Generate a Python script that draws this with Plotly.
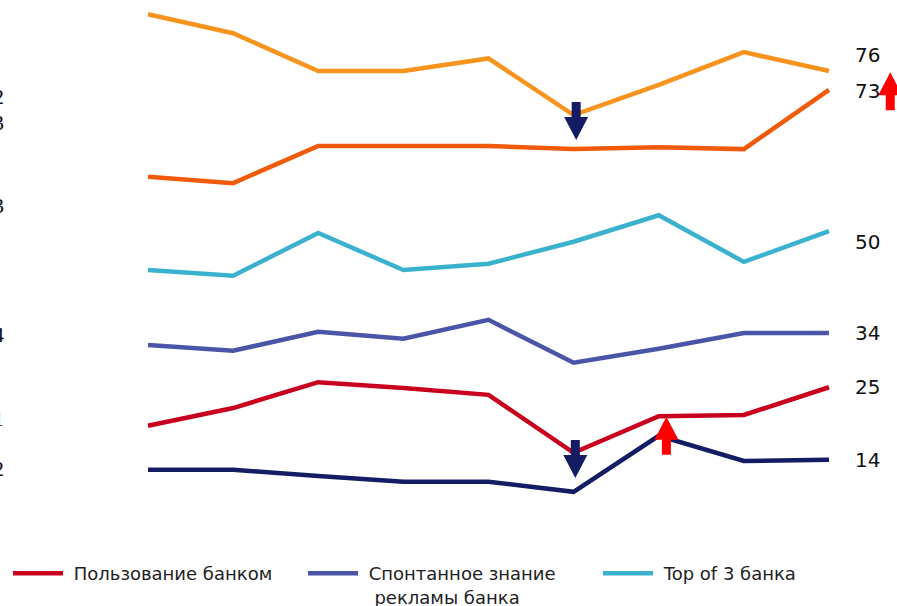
import plotly.graph_objects as go

# ---------------- data ----------------
periods = list(range(9))

top3_share_light = [85, 82, 76, 76, 78, 69, 73.8, 79, 76]      # light orange (not in legend)
top3_share_dark = [59.2, 58.2, 64.1, 64.1, 64.1, 63.6, 63.9, 63.6, 73]  # dark orange
top3_bank = [44.4, 43.5, 50.3, 44.4, 45.4, 48.9, 53.1, 45.7, 50.6]       # cyan
spont_adv = [32.5, 31.6, 34.6, 33.5, 36.5, 29.7, 31.9, 34.4, 34.4]       # blue
bank_usage = [19.7, 22.5, 26.6, 25.7, 24.6, 15.4, 21.2, 21.4, 25.8]      # red
navy_series = [12.7, 12.7, 11.7, 10.8, 10.8, 9.2, 18.1, 14.1, 14.3]      # navy

NB = "\u00a0"
series_names = [NB + "Пользование банком",
                NB + "Спонтанное знание<br>" + NB * 2 + "рекламы банка",
                NB + "Top of 3 банка"]
end_labels = ["76", "73", "50", "34", "25", "14"]
end_label_values = [78.5, 72.8, 48.8, 34.4, 25.8, 14.2]
left_labels = ["72", "63", "43", "34", "21", "12"]
left_label_values = [71.9, 67.9, 54.6, 34.1, 20.9, 12.9]

# arrows: (x period, tip value, direction, colour)
arrows = [
    (5.03, 65.05, "down", "#141C64"),
    (5.02, 11.4, "down", "#141C64"),
    (6.09, 21.1, "up", "#FF0000"),
    (8.72, 75.8, "up", "#FF0000"),
]

# ---------------- figure ----------------
W, H = 897, 606
Y0, Y1 = 4.73, 87.27
X0, X1 = -1.7386, 8.799
px_x = (X1 - X0) / W
px_y = (Y1 - Y0) / 520

fig = go.Figure()

def add_line(vals, color, name=None, show=False):
    fig.add_trace(go.Scatter(
        x=periods, y=vals, mode="lines", name=name if name else "",
        line=dict(color=color, width=4.5), showlegend=show, hoverinfo="skip"))

add_line(bank_usage, "#C8001E", series_names[0], True)
add_line(spont_adv, "#4A55A8", series_names[1], True)
add_line(top3_bank, "#3BB2CD", series_names[2], True)
add_line(top3_share_light, "#F7941E")
add_line(top3_share_dark, "#F05A0A")
add_line(navy_series, "#141C64")

for x, tip, d, col in arrows:
    s = 1 if d == "down" else -1
    L, HL, SW, HW = 38, 23, 4.5, 12
    yt = tip
    yh = tip + s * HL * px_y
    ys = tip + s * L * px_y
    path = (f"M{x:.4f},{yt:.4f} L{x - HW*px_x:.4f},{yh:.4f} L{x - SW*px_x:.4f},{yh:.4f} "
            f"L{x - SW*px_x:.4f},{ys:.4f} L{x + SW*px_x:.4f},{ys:.4f} L{x + SW*px_x:.4f},{yh:.4f} "
            f"L{x + HW*px_x:.4f},{yh:.4f} Z")
    fig.add_shape(type="path", path=path, xref="x", yref="y",
                  fillcolor=col, line=dict(width=0), layer="above")

for t, v in zip(end_labels, end_label_values):
    fig.add_annotation(x=853 / W, xref="paper", y=v, yref="y", text=t, showarrow=False,
                       xanchor="left", yanchor="middle",
                       font=dict(family="DejaVu Sans", size=20, color="#111111"))

for t, v in zip(left_labels, left_label_values):
    fig.add_annotation(x=6 / W, xref="paper", y=v, yref="y", text=t, showarrow=False,
                       xanchor="right", yanchor="middle",
                       font=dict(family="Liberation Serif", size=22, color="#111111"))

fig.update_layout(
    width=W, height=H,
    margin=dict(l=0, r=0, t=0, b=86),
    paper_bgcolor="white", plot_bgcolor="white",
    xaxis=dict(range=[X0, X1], visible=False),
    yaxis=dict(range=[Y0, Y1], visible=False),
    legend=dict(orientation="h", x=8 / W, xanchor="left", y=1 - 555 / H, yref="container",
                yanchor="top", entrywidth=230, entrywidthmode="pixels", itemwidth=50,
                font=dict(family="DejaVu Sans", size=18, color="#222222"),
                bgcolor="rgba(0,0,0,0)", traceorder="normal", valign="top"),
)

fig.write_html("out.html")
